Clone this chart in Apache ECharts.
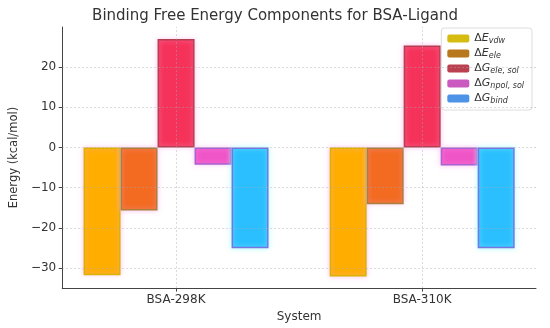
<!DOCTYPE html>
<html>
<head>
<meta charset="utf-8">
<script src="https://cdn.jsdelivr.net/npm/echarts@6/dist/echarts.min.js"></script>
<style>html,body{margin:0;padding:0;background:#fff}#c{width:550px;height:328px}</style>
</head>
<body>
<div id="c"></div>
<script>
const categories = ['BSA-298K', 'BSA-310K'];
const seriesNames = ['ΔE_vdw', 'ΔE_ele', 'ΔG_ele,sol', 'ΔG_npol,sol', 'ΔG_bind'];
const vdw = [-31.8, -32.1];
const ele = [-15.7, -14.1];
const geleSol = [27.0, 25.4];
const gnpolSol = [-4.3, -4.5];
const gbind = [-25.1, -25.1];
const yTicks = [-30, -20, -10, 0, 10, 20];
const xPositions = [0, 1];

const values = [vdw, ele, geleSol, gnpolSol, gbind];
const fills = ['#FFAE00', '#F26B21', '#F5335A', '#F055C8', '#2BBFFF'];
const edges = ['#D8B400', '#A8803A', '#B3404F', '#A463D0', '#7A74E0'];
const legendColors = ['#D6BC10', '#B8781E', '#BB4050', '#CB5AC0', '#4D93E8'];
const halos = ['rgba(255,170,235,0.6)', 'rgba(255,170,235,0.6)', 'rgba(255,170,235,0.6)', 'rgba(255,170,235,0.6)', 'rgba(150,255,255,0.7)'];
const legendRich = {
  'ΔE_vdw': '{u|Δ}{i|E}{s|vdw}',
  'ΔE_ele': '{u|Δ}{i|E}{s|ele}',
  'ΔG_ele,sol': '{u|Δ}{i|G}{s|ele, sol}',
  'ΔG_npol,sol': '{u|Δ}{i|G}{s|npol, sol}',
  'ΔG_bind': '{u|Δ}{i|G}{s|bind}'
};

const font = 'DejaVu Sans';
const gridLine = {color: 'rgba(170,170,170,0.55)', type: [2, 2], width: 0.8};

const series = values.map((arr, i) => {
  const s = {
    name: seriesNames[i],
    type: 'bar',
    data: arr.map((v, j) => [xPositions[j], v]),
    barWidth: 37,
    barGap: '0%',
    itemStyle: {color: fills[i], borderColor: edges[i], borderWidth: 1.5,
      shadowColor: halos[i], shadowBlur: 5},
    emphasis: {disabled: true}
  };
  if (i === 2) {
    s.markLine = {
      silent: true, symbol: 'none', label: {show: false}, animation: false,
      lineStyle: gridLine,
      data: xPositions.map(x => ({xAxis: x})).concat(yTicks.map(y => ({yAxis: y})))
    };
  }
  return s;
});

const chart = echarts.init(document.getElementById('c'), null, {renderer: 'canvas'});
chart.setOption({
  animation: false,
  backgroundColor: '#fff',
  textStyle: {fontFamily: font},
  title: {
    text: 'Binding Free Energy Components for BSA-Ligand',
    left: 'center', top: 4,
    textStyle: {fontFamily: font, fontSize: 15, fontWeight: 'normal', color: '#333'}
  },
  legend: {
    orient: 'vertical', right: 18, top: 28,
    itemWidth: 22, itemHeight: 8, itemGap: 3,
    padding: [5, 8, 5, 6],
    borderColor: '#ddd', borderWidth: 1, borderRadius: 3,
    backgroundColor: 'rgba(255,255,255,0.9)',
    data: seriesNames.map((n, i) => ({name: n, itemStyle: {color: legendColors[i], borderWidth: 0, shadowBlur: 0}})),
    formatter: n => legendRich[n],
    textStyle: {
      color: '#333', fontFamily: font,
      rich: {
        u: {fontSize: 11, fontFamily: font, color: '#333'},
        i: {fontSize: 11, fontFamily: font, fontStyle: 'italic', color: '#333'},
        s: {fontSize: 8, fontFamily: font, fontStyle: 'italic', color: '#333', padding: [5, 0, 0, 0]}
      }
    }
  },
  grid: {left: 58, right: 14, top: 27, bottom: 38},
  xAxis: {
    type: 'value', min: -0.4625, max: 1.4625,
    name: 'System', nameLocation: 'middle', nameGap: 18,
    nameTextStyle: {fontFamily: font, fontSize: 12, color: '#333'},
    axisLine: {show: true, onZero: false, lineStyle: {color: '#444', width: 1}},
    axisTick: {show: true, customValues: xPositions, length: 3.5, lineStyle: {color: '#444'}},
    axisLabel: {customValues: xPositions, formatter: v => categories[Math.round(v)] || '',
      fontFamily: font, fontSize: 12, color: '#333', margin: 6},
    splitLine: {show: false}
  },
  yAxis: {
    type: 'value', min: -35, max: 30,
    name: 'Energy (kcal/mol)', nameLocation: 'middle', nameGap: 40,
    nameTextStyle: {fontFamily: font, fontSize: 11.5, color: '#333'},
    axisLine: {show: true, onZero: false, lineStyle: {color: '#444', width: 1}},
    axisTick: {show: true, customValues: yTicks, length: 3.5, lineStyle: {color: '#444'}},
    axisLabel: {customValues: yTicks, formatter: v => (v < 0 ? '\u2212' + Math.abs(v) : String(v)),
      fontFamily: font, fontSize: 12, color: '#333', margin: 6},
    splitLine: {show: false}
  },
  series: series
});
</script>
</body>
</html>
